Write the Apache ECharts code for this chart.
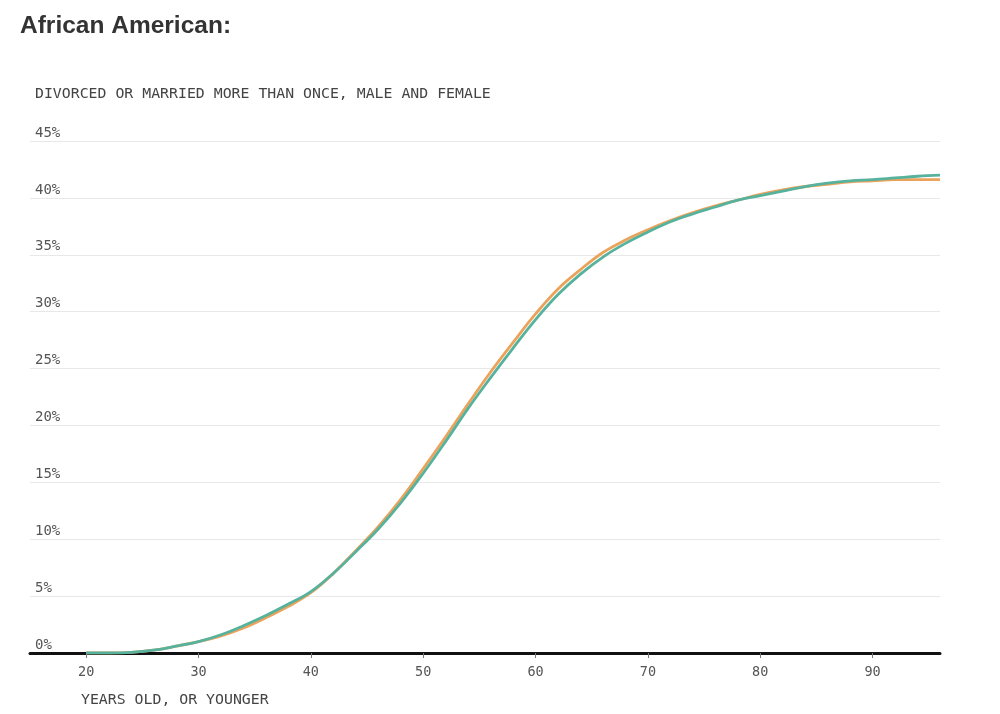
<!DOCTYPE html>
<html>
<head>
<meta charset="utf-8">
<script src="https://cdn.jsdelivr.net/npm/echarts@6/dist/echarts.min.js"></script>
<style>
html,body{margin:0;padding:0;background:#fff;}
#chart{width:1000px;height:714px;}
</style>
</head>
<body>
<div id="chart"></div>
<script>
var titleText = 'African American:';
var subtitleText = 'DIVORCED OR MARRIED MORE THAN ONCE, MALE AND FEMALE';
var xAxisName = 'YEARS OLD, OR YOUNGER';
var ages = [20,22,24,26,28,30,32,34,36,38,40,42,44,46,48,50,52,54,56,58,60,62,64,66,68,70,72,74,76,78,80,82,84,86,88,90,92,94,96];
var seriesA = [0,0,0.05,0.25,0.6,1.0,1.5,2.2,3.1,4.1,5.3,7.0,9.0,11.1,13.5,16.2,19.0,21.9,24.7,27.3,29.8,32.0,33.7,35.2,36.3,37.2,38.0,38.7,39.3,39.8,40.3,40.7,41.0,41.2,41.4,41.5,41.6,41.6,41.6];
var seriesB = [0,0,0.05,0.25,0.6,1.0,1.6,2.4,3.3,4.3,5.4,7.0,8.9,10.9,13.2,15.8,18.6,21.5,24.2,26.8,29.3,31.5,33.3,34.8,36.0,37.0,37.9,38.6,39.2,39.8,40.2,40.6,41.0,41.3,41.5,41.6,41.75,41.9,42.0];
var xTicks = [20,30,40,50,60,70,80,90];

function pairs(xs, ys){ return xs.map(function(x,i){ return [x, ys[i]]; }); }

var mono = 'DejaVu Sans Mono, monospace';
var chart = echarts.init(document.getElementById('chart'), null, {renderer:'canvas'});
chart.setOption({
  backgroundColor:'#fff',
  animation:false,
  title:[
    {text:titleText, left:15, top:9, textStyle:{fontFamily:'Liberation Sans, Arial, sans-serif', fontSize:24.5, fontWeight:'bold', color:'#333'}},
    {text:subtitleText, left:30, top:82, textStyle:{fontFamily:mono, fontSize:14.85, fontWeight:'normal', color:'#444'}},
    {text:xAxisName, left:76, top:688, textStyle:{fontFamily:mono, fontSize:14.85, fontWeight:'normal', color:'#444'}}
  ],
  grid:{left:30, right:60, top:141, bottom:61},
  xAxis:{
    type:'value', min:15, max:96,
    axisLine:{show:true, onZero:false, lineStyle:{color:'#111', width:3}},
    axisTick:{show:true, customValues:xTicks, length:5, lineStyle:{color:'#777', width:1}},
    axisLabel:{customValues:xTicks, margin:12, fontFamily:mono, fontSize:13.5, color:'#555'},
    splitLine:{show:false}
  },
  yAxis:{
    type:'value', min:0, max:45, interval:5,
    axisLine:{show:false}, axisTick:{show:false},
    axisLabel:{inside:true, margin:5, align:'left', verticalAlign:'bottom', padding:[0,0,1,0],
      fontFamily:mono, fontSize:14, color:'#555',
      formatter:function(v){return v+'%';}},
    splitLine:{show:true, lineStyle:{color:'#e8e8e8', width:1}}
  },
  series:[
    {type:'line', data:pairs(ages, seriesA), smooth:0.4, showSymbol:false, lineStyle:{color:'#eba35c', width:2.8}, z:2},
    {type:'line', data:pairs(ages, seriesB), smooth:0.4, showSymbol:false, lineStyle:{color:'#56b29c', width:2.8}, z:3}
  ]
});
</script>
</body>
</html>
